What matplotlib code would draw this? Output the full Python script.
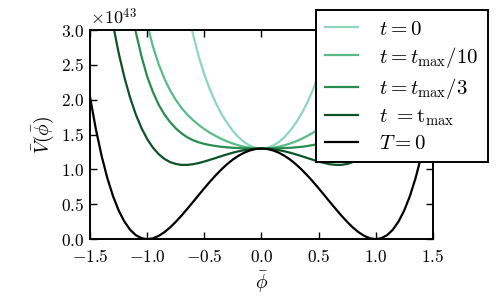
import matplotlib
matplotlib.use("Agg")
import matplotlib.pyplot as plt
from matplotlib.ticker import FuncFormatter

plt.rcParams["mathtext.fontset"] = "cm"
plt.rcParams["font.family"] = "serif"
plt.rcParams["font.serif"] = ["DejaVu Serif"]

# field values phi_bar, -1.5 .. 1.5 in steps of 0.05
phi = [round(-1.5 + 0.05 * i, 2) for i in range(61)]

# potential in units of 1e43
v_t0 = [9.990, 9.990, 9.990, 9.990, 9.990, 9.990, 9.990, 9.990, 9.990, 9.990, 9.990,
        8.820, 7.321, 6.126, 5.176, 4.420, 3.817, 3.334, 2.944, 2.625, 2.361, 2.141,
        1.955, 1.797, 1.664, 1.553, 1.462, 1.391, 1.341, 1.310, 1.300, 1.310, 1.341,
        1.391, 1.462, 1.553, 1.664, 1.797, 1.955, 2.141, 2.361, 2.625, 2.944, 3.334,
        3.817, 4.420, 5.176, 6.126, 7.321, 8.820, 9.990, 9.990, 9.990, 9.990, 9.990,
        9.990, 9.990, 9.990, 9.990, 9.990, 9.990]
v_t10 = [9.990, 9.990, 9.990, 8.495, 7.209, 6.142, 5.262, 4.540, 3.949, 3.469, 3.079,
         2.764, 2.509, 2.303, 2.135, 1.998, 1.884, 1.789, 1.709, 1.640, 1.579, 1.526,
         1.480, 1.438, 1.402, 1.372, 1.346, 1.326, 1.312, 1.303, 1.300, 1.303, 1.312,
         1.326, 1.346, 1.372, 1.402, 1.438, 1.480, 1.526, 1.579, 1.640, 1.709, 1.789,
         1.884, 1.998, 2.135, 2.303, 2.509, 2.764, 3.079, 3.469, 3.949, 4.540, 5.262,
         6.142, 7.209, 8.495, 9.990, 9.990, 9.990]
v_t3 = [8.700, 7.650, 6.700, 5.850, 5.100, 4.450, 3.880, 3.390, 2.970, 2.620, 2.330,
        2.110, 1.930, 1.790, 1.680, 1.590, 1.518, 1.462, 1.420, 1.390, 1.367, 1.350,
        1.336, 1.325, 1.317, 1.311, 1.307, 1.304, 1.302, 1.301, 1.300, 1.301, 1.302,
        1.304, 1.307, 1.311, 1.317, 1.325, 1.336, 1.350, 1.367, 1.390, 1.420, 1.462,
        1.518, 1.590, 1.680, 1.790, 1.930, 2.110, 2.330, 2.620, 2.970, 3.390, 3.880,
        4.450, 5.100, 5.850, 6.700, 7.650, 8.700]
v_tmax = [5.519, 4.774, 4.125, 3.563, 3.081, 2.669, 2.321, 2.030, 1.789, 1.593, 1.435,
          1.313, 1.220, 1.152, 1.106, 1.079, 1.066, 1.066, 1.075, 1.092, 1.114, 1.139,
          1.165, 1.192, 1.217, 1.241, 1.261, 1.278, 1.290, 1.297, 1.300, 1.297, 1.290,
          1.278, 1.261, 1.241, 1.217, 1.192, 1.165, 1.139, 1.114, 1.092, 1.075, 1.066,
          1.066, 1.079, 1.106, 1.152, 1.220, 1.313, 1.435, 1.593, 1.789, 2.030, 2.321,
          2.669, 3.081, 3.563, 4.125, 4.774, 5.519]
v_T0 = [2.031, 1.580, 1.198, 0.879, 0.619, 0.411, 0.252, 0.135, 0.057, 0.014, 0.000,
        0.012, 0.047, 0.100, 0.168, 0.249, 0.338, 0.434, 0.532, 0.632, 0.731, 0.827,
        0.917, 1.001, 1.077, 1.143, 1.198, 1.242, 1.274, 1.294, 1.300, 1.294, 1.274,
        1.242, 1.198, 1.143, 1.077, 1.001, 0.917, 0.827, 0.731, 0.632, 0.532, 0.434,
        0.338, 0.249, 0.168, 0.100, 0.047, 0.012, 0.000, 0.014, 0.057, 0.135, 0.252,
        0.411, 0.619, 0.879, 1.198, 1.580, 2.031]

curves = [v_t0, v_t10, v_t3, v_tmax, v_T0]
labels = [r"$t=0$", r"$t=t_{\rm max}/10$", r"$t=t_{\rm max}/3$",
          r"$t\ ={\rm t}_{\rm max}$", r"$T=0$"]
colors = ["#8fd6ba", "#5abb8a", "#2a8c4f", "#0d5229", "black"]

xticks = [-1.5, -1.0, -0.5, 0.0, 0.5, 1.0, 1.5]
yticks = [0.0, 0.5, 1.0, 1.5, 2.0, 2.5, 3.0]

fig = plt.figure(figsize=(4.98, 3.07), dpi=100)
ax = fig.add_axes([0.181, 0.221, 0.688, 0.681])

for v, lab, c in zip(curves, labels, colors):
    ax.plot(phi, v, color=c, lw=1.6, label=lab)

ax.set_xlim(-1.5, 1.5)
ax.set_ylim(0.0, 3.0)
ax.set_xticks(xticks)
ax.set_yticks(yticks)
fmt = FuncFormatter(lambda x, pos: f"${x:.1f}$")
ax.xaxis.set_major_formatter(fmt)
ax.yaxis.set_major_formatter(fmt)
ax.tick_params(direction="in", top=True, right=True, length=5, width=1,
               labelsize=12.5)
ax.tick_params(axis="x", pad=7)
ax.tick_params(axis="y", pad=4)
for s in ax.spines.values():
    s.set_linewidth(1.4)

ax.set_xlabel(r"$\bar{\phi}$", fontsize=14, labelpad=3)
ax.set_ylabel(r"$\bar{V}(\bar{\phi})$", fontsize=14, labelpad=4)
ax.text(0.0, 1.01, r"$\times10^{43}$", transform=ax.transAxes, fontsize=13,
        ha="left", va="bottom")

leg = ax.legend(loc="upper right", bbox_to_anchor=(0.98, 0.967),
                bbox_transform=fig.transFigure, borderaxespad=0,
                fontsize=15, fancybox=False, framealpha=1, edgecolor="black",
                handlelength=1.6, handletextpad=1.0, labelspacing=0.3,
                borderpad=0.45)
leg.get_frame().set_linewidth(1.4)

fig.savefig("out.png", dpi=100)
